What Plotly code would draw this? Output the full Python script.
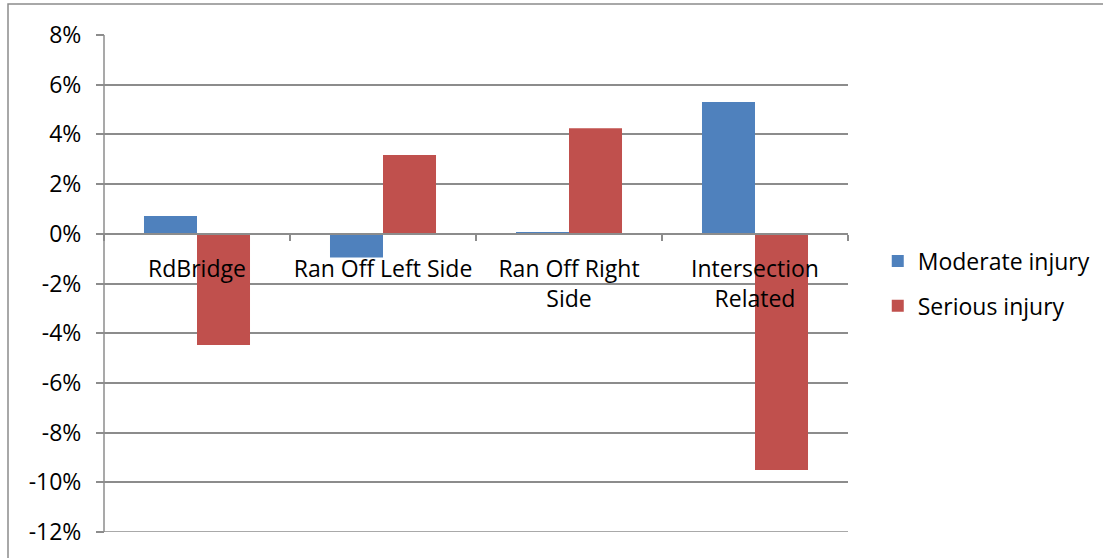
import plotly.graph_objects as go

categories = ["RdBridge", "Ran Off Left Side", "Ran Off Right<br>Side", "Intersection<br>Related"]
moderate_injury = [0.72, -0.95, 0.05, 5.30]
serious_injury = [-4.47, 3.17, 4.25, -9.50]

y_tick_values = [8, 6, 4, 2, 0, -2, -4, -6, -8, -10, -12]
y_tick_labels = ["8%", "6%", "4%", "2%", "0%", "-2%", "-4%", "-6%", "-8%", "-10%", "-12%"]

BLUE = "#4F81BD"
RED = "#C0504D"
GRID = "#8C8C8C"
FONT = "Open Sans"
FS = 23

W, H = 1103, 558
ML, MR, MT, MB = 104, 255, 35, 26
y_min, y_max = -12, 8

fig = go.Figure()
fig.add_trace(go.Bar(x=categories, y=moderate_injury, name="Moderate injury",
                     marker=dict(color=BLUE, line=dict(width=0)), legendgroup="a"))
fig.add_trace(go.Bar(x=categories, y=serious_injury, name="Serious injury",
                     marker=dict(color=RED, line=dict(width=0)), legendgroup="b"))

# category axis sits on the 0% line
zero_pos = (0 - y_min) / (y_max - y_min)

fig.update_layout(
    width=W, height=H,
    margin=dict(l=ML, r=MR, t=MT, b=MB, autoexpand=False),
    paper_bgcolor="white", plot_bgcolor="white",
    font=dict(family=FONT, size=FS, color="black"),
    barmode="group", bargap=0.43, bargroupgap=0,
    showlegend=True,
    legend=dict(x=1.040, y=0.5, xanchor="left", yanchor="middle",
                tracegroupgap=12, font=dict(size=FS), itemwidth=30),
    xaxis=dict(
        type="category", anchor="free", position=zero_pos,
        showline=True, linecolor=GRID, linewidth=1.5,
        ticks="outside", ticklen=6, tickcolor=GRID, tickwidth=1.5,
        tickson="boundaries", showgrid=False, tickangle=0, automargin=False,
        tickfont=dict(size=FS), ticklabelstandoff=15,
        layer="above traces",
    ),
    yaxis=dict(
        range=[y_min, y_max], tickvals=y_tick_values, ticktext=y_tick_labels,
        anchor="free", position=0, automargin=False,
        showline=False,
        showgrid=True, gridcolor=GRID, gridwidth=1.5,
        zeroline=False,
        ticks="outside", ticklen=8, tickcolor=GRID, tickwidth=1.5,
        tickfont=dict(size=FS), ticklabelstandoff=10,
    ),
)

# value axis line and bottom gridline
fig.add_shape(type="line", xref="paper", yref="y", x0=0, x1=0, y0=y_min, y1=y_max,
              line=dict(color=GRID, width=1.5), layer="below")
fig.add_shape(type="line", xref="paper", yref="y", x0=0, x1=1, y0=y_min, y1=y_min,
              line=dict(color=GRID, width=1.5), layer="below")

# chart frame (top and left edges visible)
pw = W - ML - MR
ph = H - MT - MB
fig.add_shape(type="rect", xref="paper", yref="paper",
              x0=(8 - ML) / pw, x1=(W + 10 - ML) / pw,
              y0=(H - MB - (H + 10)) / ph, y1=(H - MB - 4) / ph,
              line=dict(color=GRID, width=1.5), fillcolor="rgba(0,0,0,0)", layer="below")

fig.write_html("out.html")
